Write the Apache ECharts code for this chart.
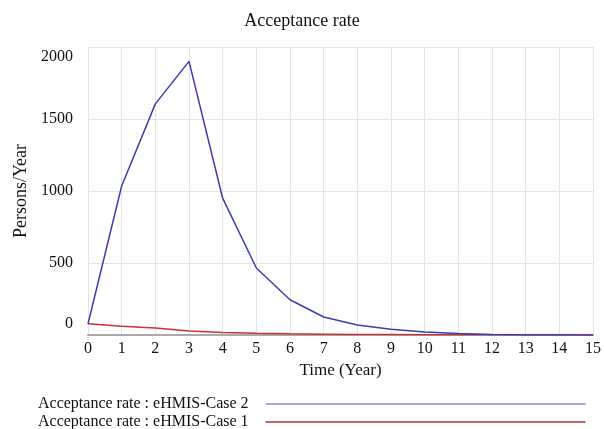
<!DOCTYPE html>
<html>
<head>
<meta charset="utf-8">
<script src="https://cdn.jsdelivr.net/npm/echarts@6/dist/echarts.min.js"></script>
<style>
  html, body { margin: 0; padding: 0; background: #fff; }
  #chart { width: 604px; height: 429px; }
</style>
</head>
<body>
<div id="chart"></div>
<script>
const years = ['0', '1', '2', '3', '4', '5', '6', '7', '8', '9', '10', '11', '12', '13', '14', '15']
const case2 = [78, 1035, 1605, 1900, 950, 465, 245, 125, 70, 40, 20, 10, 4, 2, 1, 0]
const case1 = [78, 60, 48, 28, 18, 12, 8, 6, 4, 3, 2, 1, 1, 0, 0, 0]
const yTicks = [0, 500, 1000, 1500, 2000]
const names = ['Acceptance rate : eHMIS-Case 2', 'Acceptance rate : eHMIS-Case 1']

const chart = echarts.init(document.getElementById('chart'))
const font = '"Liberation Serif", "Times New Roman", serif'
const legendBase = {
  left: 33,
  align: 'right',
  itemWidth: 320,
  itemHeight: 2,
  icon: 'rect',
  textStyle: { fontFamily: font, fontSize: 16, color: '#111', padding: [0, 12, 0, 0] }
}
const option = {
  textStyle: { fontFamily: font },
  title: {
    text: 'Acceptance rate',
    left: 'center',
    top: 7,
    textStyle: { fontFamily: font, fontSize: 18, fontWeight: 'normal', color: '#111' }
  },
  grid: { left: 88, right: 7, top: 47, bottom: 94 },
  legend: [
    Object.assign({}, legendBase, {
      top: 391,
      data: [{ name: names[0], itemStyle: { color: '#a8a8dc' } }]
    }),
    Object.assign({}, legendBase, {
      top: 409,
      data: [{ name: names[1], itemStyle: { color: '#c86464' } }]
    })
  ],
  xAxis: {
    type: 'category',
    boundaryGap: false,
    data: years,
    name: 'Time (Year)',
    nameLocation: 'middle',
    nameGap: 26,
    nameTextStyle: { fontFamily: font, fontSize: 17, color: '#111' },
    axisLine: { lineStyle: { color: '#aaaaaa', width: 2 } },
    axisTick: { show: false },
    axisLabel: { fontFamily: font, fontSize: 16, color: '#111', margin: 6 },
    splitLine: { show: true, lineStyle: { color: '#e4e4e4' } }
  },
  yAxis: {
    type: 'value',
    min: 0,
    max: 2000,
    interval: 500,
    name: 'Persons/Year',
    nameLocation: 'middle',
    nameGap: 57,
    nameTextStyle: { fontFamily: font, fontSize: 18, color: '#111' },
    axisLine: { show: false },
    axisTick: { show: false },
    axisLabel: {
      fontFamily: font,
      fontSize: 16,
      color: '#111',
      margin: 15,
      formatter: function (v) {
        if (v === yTicks[yTicks.length - 1]) return '{top|' + v + '}'
        if (v === yTicks[0]) return '{bot|' + v + '}'
        return String(v)
      },
      rich: {
        top: { fontFamily: font, fontSize: 16, color: '#111', padding: [20, 0, 0, 0] },
        bot: { fontFamily: font, fontSize: 16, color: '#111', padding: [0, 0, 22, 0] }
      }
    },
    splitLine: { lineStyle: { color: '#e4e4e4' } }
  },
  series: [
    {
      name: names[1],
      type: 'line',
      data: case1,
      symbol: 'none',
      lineStyle: { color: '#c83232', width: 1.5 },
      itemStyle: { color: '#c83232' }
    },
    {
      name: names[0],
      type: 'line',
      data: case2,
      symbol: 'none',
      lineStyle: { color: '#3c3cb4', width: 1.5 },
      itemStyle: { color: '#3c3cb4' }
    }
  ]
}
chart.setOption(option)
</script>
</body>
</html>
